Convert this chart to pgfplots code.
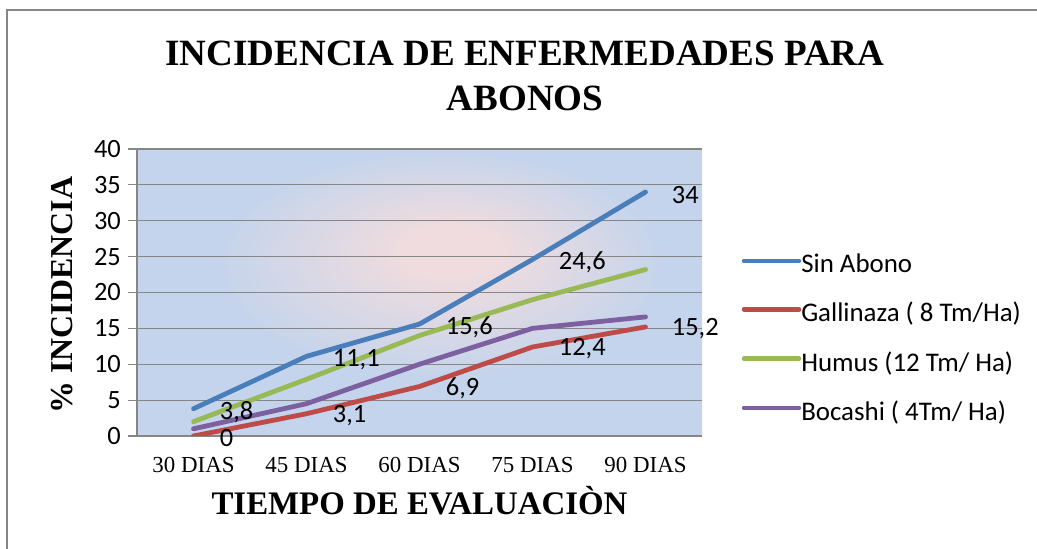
\documentclass[border=0pt]{standalone}
\usepackage{fontspec}
\usepackage{pgfplots}
\pgfplotsset{compat=1.18}
\setmainfont{Carlito}
\newfontfamily\tnr{Liberation Serif}
\definecolor{sinabono}{RGB}{74,126,187}
\definecolor{gallinaza}{RGB}{190,75,72}
\definecolor{humus}{RGB}{152,185,84}
\definecolor{bocashi}{RGB}{125,96,160}
\definecolor{gridc}{RGB}{134,134,134}
\definecolor{pinkc}{RGB}{240,220,222}
\definecolor{bluec}{RGB}{196,212,236}
\definecolor{edgec}{RGB}{220,229,242}
\pgfdeclareradialshading{bgshade}{\pgfpoint{3bp}{8bp}}{color(0bp)=(pinkc); color(4bp)=(pinkc); color(20bp)=(bluec); color(36bp)=(bluec); color(52bp)=(edgec)}
\begin{document}
\begin{tikzpicture}[x=1bp,y=1bp]
\useasboundingbox (0,0) rectangle (1037,549);
\draw[gridc, line width=1.2bp] (7,-20) rectangle (1080,539);
\node[anchor=base, font=\tnr\bfseries\fontsize{37.2}{37.2}\selectfont, inner sep=0pt] at (525,483.3) {INCIDENCIA DE ENFERMEDADES PARA};
\node[anchor=base, font=\tnr\bfseries\fontsize{37.2}{37.2}\selectfont, inner sep=0pt] at (525,438) {ABONOS};
\begin{axis}[
  at={(137bp,113bp)}, anchor=south west,
  scale only axis, width=565bp, height=287bp,
  xmin=-0.5, xmax=4.5, ymin=0, ymax=40,
  xtick={0,1,2,3,4},
  xticklabels={30 DIAS,45 DIAS,60 DIAS,75 DIAS,90 DIAS},
  ytick={0,5,...,40},
  axis x line*=bottom, axis y line*=left,
  axis line style={gridc, line width=1.2bp},
  ymajorgrids, major grid style={gridc, line width=1.2bp},
  axis background/.style={shading=bgshade},
  tick align=outside,
  major tick length=9bp,
  xtick style={draw=none},
  ytick style={gridc, line width=1.2bp},
  /pgf/number format/assume math mode=true,
  yticklabel style={font=\fontsize{26.5}{26.5}\selectfont, inner sep=0pt, xshift=-7bp},
  xticklabel style={font=\tnr\fontsize{23}{23}\selectfont, inner sep=0pt, yshift=-12bp},
  xlabel={TIEMPO DE EVALUACIÒN},
  xlabel style={font=\tnr\bfseries\fontsize{33}{33}\selectfont, inner sep=0pt, at={(0.5,0)}, anchor=base, yshift=-79bp},
  ylabel={\% INCIDENCIA},
  ylabel style={font=\tnr\bfseries\fontsize{32}{32}\selectfont, inner sep=0pt, at={(-0.1327,0.491)}, anchor=center},
  every axis plot/.append style={line width=4.8bp, line cap=round, line join=round},
  legend style={at={(1.070,0.342)}, anchor=west, draw=none, fill=none,
    font=\fontsize{27}{27}\selectfont, inner sep=0pt, row sep=28bp,
    nodes={inner sep=0pt, anchor=west},
    /tikz/every even column/.append style={column sep=4bp}},
  legend cell align=left,
  legend image code/.code={\draw[#1, line width=4.5bp, line cap=round] (0bp,0.33em) -- (55bp,0.33em);},
]
\addplot[sinabono, nodes near coords, point meta=explicit symbolic,
  every node near coord/.style={anchor=west, inner sep=0pt, xshift=24bp, yshift=-3bp, font=\fontsize{26.5}{26.5}\selectfont, text=black}]
  coordinates {(0,3.8)[3,8] (1,11.1)[11,1] (2,15.6)[15,6] (3,24.6)[24,6] (4,34)[34]};
\addlegendentry{Sin Abono}
\addplot[gallinaza, nodes near coords, point meta=explicit symbolic,
  every node near coord/.style={anchor=west, inner sep=0pt, xshift=24bp, yshift=-2bp, font=\fontsize{26.5}{26.5}\selectfont, text=black}]
  coordinates {(0,0)[0] (1,3.1)[3,1] (2,6.9)[6,9] (3,12.4)[12,4] (4,15.2)[15,2]};
\addlegendentry{Gallinaza ( 8 Tm/Ha)}
\addplot[humus] coordinates {(0,2) (1,7.9) (2,14) (3,19) (4,23.2)};
\addlegendentry{Humus (12 Tm/ Ha)}
\addplot[bocashi] coordinates {(0,1) (1,4.5) (2,10) (3,15) (4,16.6)};
\addlegendentry{Bocashi ( 4Tm/ Ha)}
\end{axis}
\end{tikzpicture}
\end{document}
